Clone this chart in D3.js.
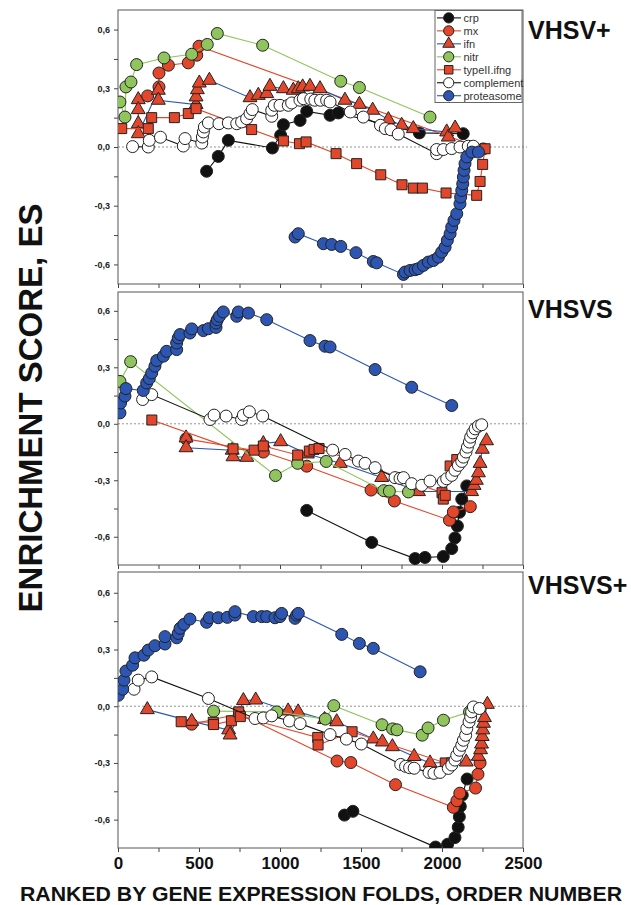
<!DOCTYPE html>
<html>
<head>
<meta charset="utf-8">
<title>Enrichment score</title>
<script src="https://d3js.org/d3.v7.min.js"></script>
<style>
  body { margin: 0; background: #fff; }
  text { font-family: "Liberation Sans", Arial, sans-serif; }
</style>
</head>
<body>
<div id="chart"></div>
<script>
// ---- data: [order number, ES] ----
var seriesNames = ["crp", "mx", "ifn", "nitr", "typeII.ifng", "complement", "proteasome"];
var panelLabels = ["VHSV+", "VHSVS", "VHSVS+"];
var xTicks = [0, 250, 500, 750, 1000, 1250, 1500, 1750, 2000, 2250, 2500];
var yTicks = [-0.6, -0.45, -0.3, -0.15, 0, 0.15, 0.3, 0.45, 0.6];

// VHSV+
var plusCrp = [[547,-0.124],[619,-0.048],[681,0.034],[953,-0.005],[1004,0.06],[1021,0.114],[1124,0.136],[1165,0.182],[1309,0.162],[1360,0.174],[1860,0.072],[2131,0.068]];
var plusMx = [[183,0.261],[253,0.307],[253,0.378],[311,0.418],[434,0.43],[486,0.469],[500,0.515],[2255,-0.01]];
var plusIfn = [[125,0.242],[125,0.191],[125,0.119],[125,0.068],[249,0.29],[249,0.239],[482,0.217],[482,0.256],[490,0.293],[502,0.327],[564,0.341],[815,0.252],[866,0.264],[918,0.273],[938,0.31],[1021,0.298],[1082,0.29],[1113,0.298],[1140,0.307],[1185,0.31],[1247,0.298],[1401,0.239],[1490,0.218],[1572,0.188],[1669,0.14],[1751,0.111],[1823,0.094],[2029,0.077],[2039,0.051],[2081,0.097]];
var plusNitr = [[12,0.23],[43,0.153],[49,0.307],[80,0.332],[115,0.421],[284,0.455],[455,0.474],[551,0.524],[613,0.58],[893,0.52],[1375,0.336],[1490,0.304],[1926,0.153]];
var plusType2 = [[23,0.094],[187,0.094],[208,0.15],[348,0.15],[434,0.171],[482,0.196],[825,0.089],[1021,0.031],[1120,0.017],[1161,0.026],[1346,-0.034],[1473,-0.085],[1622,-0.142],[1753,-0.193],[1823,-0.21],[1879,-0.21],[2025,-0.235],[2214,-0.247],[2235,-0.176],[2251,-0.089],[2266,-0.009]];
var plusCompl = [[90,0.002],[187,0.0],[193,0.034],[262,0.05],[403,0.005],[414,0.043],[517,0.02],[521,0.051],[527,0.077],[533,0.102],[558,0.123],[623,0.119],[681,0.123],[733,0.119],[763,0.128],[794,0.145],[815,0.171],[829,0.191],[949,0.157],[949,0.188],[965,0.213],[1000,0.213],[1051,0.213],[1072,0.225],[1123,0.239],[1144,0.247],[1190,0.245],[1215,0.239],[1250,0.239],[1288,0.239],[1309,0.23],[1434,0.179],[1514,0.153],[1620,0.111],[1650,0.094],[1685,0.088],[1730,0.066],[1967,-0.034],[1967,-0.013],[2008,-0.013],[2060,-0.008],[2111,0.0],[2162,0.004],[2193,0.004]];
var plusProt = [[1093,-0.46],[1113,-0.443],[1268,-0.494],[1319,-0.498],[1375,-0.508],[1469,-0.54],[1576,-0.585],[1597,-0.592],[1762,-0.651],[1772,-0.639],[1803,-0.631],[1834,-0.627],[1854,-0.622],[1885,-0.605],[1916,-0.588],[1947,-0.58],[1978,-0.563],[1998,-0.537],[2019,-0.512],[2033,-0.477],[2050,-0.443],[2060,-0.409],[2074,-0.375],[2091,-0.341],[2111,-0.29],[2115,-0.256],[2122,-0.222],[2128,-0.188],[2132,-0.153],[2136,-0.119],[2142,-0.085],[2153,-0.051],[2184,-0.026],[2225,-0.026]];

// VHSVS
var sCrp = [[1165,-0.46],[1566,-0.63],[1834,-0.716],[1895,-0.71],[2008,-0.705],[2060,-0.663],[2080,-0.606],[2095,-0.543],[2108,-0.47],[2122,-0.4],[2153,-0.33]];
var sMx = [[420,-0.08],[897,-0.15],[1165,-0.225],[1562,-0.352],[1706,-0.41],[2046,-0.512],[2070,-0.468],[2175,-0.44]];
var sIfn = [[420,-0.075],[420,-0.127],[705,-0.14],[710,-0.175],[795,-0.178],[897,-0.105],[1004,-0.095],[1169,-0.16],[1372,-0.21],[1628,-0.285],[1855,-0.36],[2183,-0.36],[2198,-0.327],[2212,-0.3],[2225,-0.26],[2235,-0.21],[2249,-0.135],[2275,-0.09]];
var sNitr = [[12,0.225],[78,0.33],[972,-0.275],[1109,-0.21],[1285,-0.2],[1640,-0.355],[1675,-0.358],[1793,-0.362]];
var sType2 = [[209,0.02],[710,-0.133],[840,-0.14],[897,-0.118],[1109,-0.166],[1181,-0.145],[1210,-0.136],[1241,-0.131],[2000,-0.366],[2008,-0.4],[2020,-0.38],[2050,-0.224],[2091,-0.19]];
var sCompl = [[152,0.129],[208,0.155],[568,0.023],[593,0.046],[667,0.041],[763,0.023],[774,0.046],[811,0.064],[893,0.041],[1325,-0.14],[1402,-0.163],[1484,-0.198],[1525,-0.21],[1587,-0.233],[1710,-0.286],[1741,-0.29],[1762,-0.286],[1813,-0.318],[1875,-0.327],[1926,-0.304],[2008,-0.306],[2029,-0.292],[2060,-0.274],[2080,-0.247],[2101,-0.221],[2122,-0.2],[2132,-0.177],[2148,-0.15],[2157,-0.124],[2169,-0.097],[2177,-0.071],[2190,-0.048],[2204,-0.027],[2225,-0.012],[2245,-0.005]];
var sProt = [[12,0.058],[16,0.111],[43,0.147],[49,0.187],[156,0.177],[177,0.217],[193,0.24],[208,0.27],[228,0.306],[239,0.336],[280,0.359],[300,0.385],[362,0.394],[362,0.429],[372,0.456],[383,0.474],[444,0.482],[455,0.504],[527,0.495],[558,0.505],[605,0.512],[605,0.535],[613,0.553],[626,0.571],[650,0.594],[733,0.571],[743,0.594],[805,0.588],[918,0.553],[1185,0.442],[1278,0.412],[1309,0.408],[1587,0.288],[1813,0.194],[2060,0.097]];

// VHSVS+
var spCrp = [[1398,-0.576],[1450,-0.556],[1960,-0.745],[2035,-0.73],[2080,-0.695],[2100,-0.64],[2107,-0.585],[2113,-0.53],[2125,-0.47],[2155,-0.385]];
var spMx = [[455,-0.095],[750,-0.04],[1352,-0.29],[1437,-0.298],[1713,-0.415],[2070,-0.535],[2092,-0.5],[2110,-0.46],[2207,-0.433],[2222,-0.36],[2235,-0.3]];
var spIfn = [[181,-0.018],[455,-0.08],[683,-0.125],[692,-0.152],[774,0.03],[850,0.033],[1050,-0.025],[1112,-0.03],[1275,-0.07],[1350,-0.082],[1576,-0.173],[1632,-0.189],[1694,-0.214],[1828,-0.266],[1926,-0.3],[2150,-0.295],[2225,-0.265],[2238,-0.23],[2244,-0.2],[2248,-0.16],[2252,-0.125],[2256,-0.09],[2262,-0.06],[2280,0.01]];
var spNitr = [[590,-0.026],[980,-0.03],[1280,-0.068],[1332,0.003],[1630,-0.098],[1695,-0.12],[1722,-0.125],[1878,-0.153],[1914,-0.115],[2009,-0.074],[2170,-0.03]];
var spType2 = [[390,-0.082],[588,-0.085],[590,-0.097],[700,-0.077],[745,-0.03],[755,-0.055],[1233,-0.165],[1235,-0.205],[1445,-0.135],[2020,-0.3],[2060,-0.3]];
var spCompl = [[99,0.09],[125,0.138],[208,0.155],[558,0.041],[846,-0.065],[897,-0.062],[949,-0.051],[1058,-0.078],[1124,-0.092],[1309,-0.15],[1410,-0.174],[1502,-0.2],[1745,-0.308],[1775,-0.318],[1800,-0.325],[1828,-0.328],[1920,-0.35],[1950,-0.355],[1988,-0.35],[2039,-0.329],[2060,-0.311],[2080,-0.285],[2091,-0.26],[2107,-0.233],[2122,-0.207],[2132,-0.18],[2146,-0.154],[2153,-0.118],[2167,-0.083],[2177,-0.057],[2183,-0.03],[2194,-0.004],[2231,-0.012]];
var spProt = [[2,0.058],[29,0.09],[37,0.138],[49,0.186],[90,0.217],[105,0.256],[160,0.27],[187,0.297],[228,0.32],[290,0.329],[290,0.368],[362,0.362],[372,0.385],[383,0.412],[407,0.433],[444,0.461],[547,0.444],[564,0.468],[619,0.468],[675,0.47],[722,0.482],[722,0.5],[835,0.474],[887,0.474],[918,0.474],[969,0.468],[1000,0.474],[1010,0.491],[1093,0.465],[1103,0.482],[1113,0.491],[1381,0.38],[1490,0.332],[1576,0.306],[1865,0.182]];

// ---- styles ----
var RED = "#e2472b", BLUE = "#2c56b2", GREEN = "#8fc55c", BLACK = "#111";
var seriesStyle = [
    {shape: "circle",   fill: BLACK,  line: BLACK},
    {shape: "circle",   fill: RED,    line: RED},
    {shape: "triangle", fill: RED,    line: BLUE},
    {shape: "circle",   fill: GREEN,  line: GREEN},
    {shape: "square",   fill: RED,    line: RED},
    {shape: "circle",   fill: "#fff", line: BLACK},
    {shape: "circle",   fill: BLUE,   line: BLUE}
];

var panels = [
    {top: 10,  bottom: 284, domain: [-0.7, 0.7],   labelY: 39,
     data: [plusCrp, plusMx, plusIfn, plusNitr, plusType2, plusCompl, plusProt]},
    {top: 292, bottom: 565, domain: [-0.75, 0.7],  labelY: 318,
     data: [sCrp, sMx, sIfn, sNitr, sType2, sCompl, sProt]},
    {top: 572, bottom: 848, domain: [-0.75, 0.71], labelY: 594,
     data: [spCrp, spMx, spIfn, spNitr, spType2, spCompl, spProt]}
];

var width = 631, height = 905;
var left = 118, right = 523;

var svg = d3.select("#chart").append("svg")
    .attr("width", width)
    .attr("height", height);

var x = d3.scaleLinear().domain([0, 2500]).range([left, right]);

function fmtY(v) {
    if (Math.abs(v * 10 - Math.round(v * 10)) > 1e-6 || Math.round(v * 10) % 3 != 0) return "";
    return (v < 0 ? "-" : "") + Math.abs(v).toFixed(1).replace(".", ",");
}

// draws one marker into g at (0,0)
function marker(g, st, scale) {
    if (st.shape == "circle") {
        g.append("circle").attr("r", 6 * scale);
    } else if (st.shape == "triangle") {
        g.append("path").attr("d", d3.symbol().type(d3.symbolTriangle).size(84 * scale * scale)());
    } else {
        g.append("path").attr("d", d3.symbol().type(d3.symbolSquare).size(100 * scale * scale)());
    }
    g.selectAll("circle,path")
        .attr("fill", st.fill)
        .attr("stroke", "#222")
        .attr("stroke-width", 1);
}

panels.forEach(function(p, pi) {
    var y = d3.scaleLinear().domain(p.domain).range([p.bottom, p.top]);
    var g = svg.append("g");

    // clip to the frame
    g.append("clipPath").attr("id", "clip" + pi)
        .append("rect")
        .attr("x", left).attr("y", p.top)
        .attr("width", right - left).attr("height", p.bottom - p.top);

    // left axis
    g.append("g")
        .attr("transform", "translate(" + left + ",0)")
        .call(d3.axisLeft(y).tickValues(yTicks).tickSize(4).tickPadding(4).tickFormat(fmtY))
        .call(function(a) { a.select(".domain").remove(); })
        .call(function(a) {
            a.selectAll("line").attr("stroke", "#444");
            a.selectAll("text").attr("font-size", 9).attr("font-weight", "bold")
                .attr("font-family", "Liberation Sans, Arial, sans-serif").attr("fill", "#222");
        });

    // bottom axis
    var last = pi == panels.length - 1;
    g.append("g")
        .attr("transform", "translate(0," + p.bottom + ")")
        .call(d3.axisBottom(x).tickValues(xTicks).tickSize(4).tickPadding(5)
            .tickFormat(function(d) { return last && d % 500 == 0 ? d : ""; }))
        .call(function(a) { a.select(".domain").remove(); })
        .call(function(a) {
            a.selectAll("line").attr("stroke", "#444");
            a.selectAll("text").attr("font-size", 17).attr("font-weight", "bold")
                .attr("font-family", "Liberation Sans, Arial, sans-serif").attr("fill", "#111");
        });

    // frame
    g.append("rect")
        .attr("x", left).attr("y", p.top)
        .attr("width", right - left).attr("height", p.bottom - p.top)
        .attr("fill", "none").attr("stroke", "#555").attr("stroke-width", 1);

    // zero line
    g.append("line")
        .attr("x1", left).attr("x2", right + 4)
        .attr("y1", y(0)).attr("y2", y(0))
        .attr("stroke", "#777").attr("stroke-width", 0.8)
        .attr("stroke-dasharray", "2,2");

    var plot = g.append("g").attr("clip-path", "url(#clip" + pi + ")");
    var line = d3.line().x(function(d) { return x(d[0]); }).y(function(d) { return y(d[1]); });

    p.data.forEach(function(series, si) {
        var st = seriesStyle[si];
        plot.append("path")
            .datum(series)
            .attr("d", line)
            .attr("fill", "none")
            .attr("stroke", st.line)
            .attr("stroke-width", 1.1);
        plot.selectAll(".m" + si)
            .data(series)
            .enter().append("g")
            .attr("class", "m" + si)
            .attr("transform", function(d) { return "translate(" + x(d[0]) + "," + y(d[1]) + ")"; })
            .each(function() { marker(d3.select(this), st, 1); });
    });

    // panel label
    svg.append("text")
        .attr("x", 528).attr("y", p.labelY)
        .attr("font-size", 25).attr("font-weight", "bold")
        .attr("fill", "#111")
        .text(panelLabels[pi]);
});

// legend in the top panel
var legend = svg.append("g");
legend.append("rect")
    .attr("x", 435).attr("y", 10.5).attr("width", 87).attr("height", 92)
    .attr("fill", "#fff").attr("stroke", "#666").attr("stroke-width", 1);
seriesNames.forEach(function(name, i) {
    var st = seriesStyle[i];
    var ly = 17.9 + i * 12.97;
    legend.append("line")
        .attr("x1", 437).attr("x2", 461).attr("y1", ly).attr("y2", ly)
        .attr("stroke", st.line).attr("stroke-width", 1.1);
    var m = legend.append("g").attr("transform", "translate(448.7," + ly + ")");
    marker(m, st, 0.85);
    legend.append("text")
        .attr("x", 463.5).attr("y", ly).attr("dy", "0.35em")
        .attr("font-size", 11).attr("fill", "#333")
        .text(name);
});

// axis titles
svg.append("text")
    .attr("transform", "translate(42,408) rotate(-90)")
    .attr("text-anchor", "middle")
    .attr("font-size", 33).attr("font-weight", "bold").attr("fill", "#111")
    .text("ENRICHMENT SCORE, ES");

svg.append("text")
    .attr("x", 20).attr("y", 901)
    .attr("textLength", 602).attr("lengthAdjust", "spacingAndGlyphs")
    .attr("font-size", 21).attr("font-weight", "bold").attr("fill", "#111")
    .text("RANKED BY GENE EXPRESSION FOLDS, ORDER NUMBER");
</script>
</body>
</html>
